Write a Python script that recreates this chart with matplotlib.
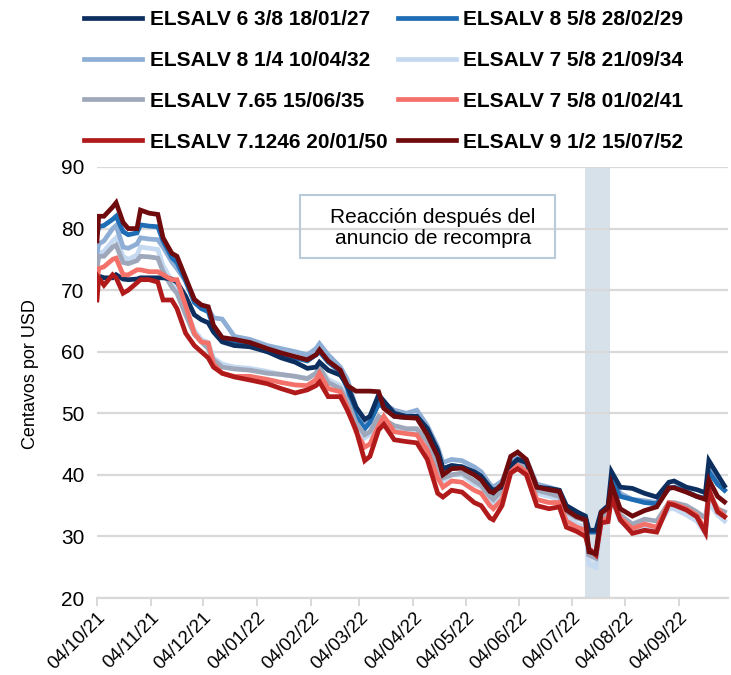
import matplotlib
matplotlib.use("Agg")
import matplotlib.pyplot as plt
import matplotlib.dates as mdates
import pandas as pd
from matplotlib.patches import Rectangle

plt.rcParams['font.family'] = ['Liberation Sans', 'DejaVu Sans']

dates = pd.to_datetime([
    "2021-10-04", "2021-10-05", "2021-10-08", "2021-10-13", "2021-10-15", "2021-10-19",
    "2021-10-22", "2021-10-27", "2021-10-29", "2021-11-03", "2021-11-08", "2021-11-11",
    "2021-11-16", "2021-11-19", "2021-11-24", "2021-11-29", "2021-12-03", "2021-12-07",
    "2021-12-10", "2021-12-15", "2021-12-22", "2021-12-31", "2022-01-10", "2022-01-18",
    "2022-01-26", "2022-02-02", "2022-02-07", "2022-02-09", "2022-02-14", "2022-02-21",
    "2022-02-25", "2022-03-02", "2022-03-07", "2022-03-10", "2022-03-15", "2022-03-18",
    "2022-03-24", "2022-03-31", "2022-04-06", "2022-04-12", "2022-04-18", "2022-04-21",
    "2022-04-26", "2022-05-02", "2022-05-09", "2022-05-13", "2022-05-18", "2022-05-20",
    "2022-05-25", "2022-05-30", "2022-06-03", "2022-06-08", "2022-06-14", "2022-06-21",
    "2022-06-27", "2022-07-01", "2022-07-07", "2022-07-12", "2022-07-14", "2022-07-18",
    "2022-07-21", "2022-07-25", "2022-07-27", "2022-08-01", "2022-08-08", "2022-08-15",
    "2022-08-22", "2022-08-29", "2022-09-01", "2022-09-08", "2022-09-14", "2022-09-19",
    "2022-09-21", "2022-09-26", "2022-09-30"])

n27 = [72, 72.3, 72, 72, 72.5, 71.8, 71.7, 71.8, 72, 72, 72, 72, 71.8, 71.3, 69, 66, 65.2, 64.7,
       63.2, 61.6, 61, 60.8, 60, 59, 58.3, 57.3, 57.5, 58.3, 57, 56.2, 54.5,
       51, 49, 49.5, 53, 52, 50, 49.5, 49.5, 47.5, 44, 41, 41.5, 41.3, 40.5, 39.8, 38, 37.5,
       38, 41.5, 42.5, 42, 38, 37.8, 37.5, 35, 34, 33.3, 31, 31, 34, 35, 40.5, 38, 37.8, 37,
       36.4, 38.8, 39, 38, 37.6, 37.1, 42.3, 40, 38.2]
b29 = [79, 80.3, 80.5, 81.5, 82, 79.5, 79, 79.3, 80.6, 80.4, 80.3, 78, 75.3, 74.5, 71.5, 68, 67, 66.5,
       64, 62, 61.5, 61, 60, 59.5, 59, 58.5, 59.5, 60, 58.3, 56.8, 54,
       49.5, 47.5, 48.5, 51.5, 51, 49.5, 49.3, 49.5, 47.5, 43.5, 41, 41.5, 41.3, 40.3, 39.5, 37.5, 37,
       38, 41.5, 42.5, 42, 38, 37.5, 37, 34.5, 33.5, 33, 30.7, 30.7, 33.5, 34.5, 39, 36.5, 36, 35.5,
       35.3, 37.8, 38, 37.3, 36.5, 36.2, 40.5, 38.5, 37.5]
lb32 = [76, 77.5, 78, 80, 80.5, 77, 76.8, 77.5, 78.5, 78.3, 78.2, 77, 74.6, 73.5, 71.5, 68.5, 67.5, 67,
        65.5, 65.3, 62.5, 62, 61, 60.5, 60, 59.5, 60.5, 61.3, 59.5, 57.5, 55.5,
        51, 48.5, 49, 52, 51.5, 50.5, 50, 50.5, 48, 44.5, 42, 42.5, 42.3, 41.3, 40.5, 38.5, 38,
        39, 42, 43, 42.5, 38.5, 38, 37.5, 35, 34, 33, 27, 26.5, 33.5, 34.5, 39.5, 37, 36, 35.8,
        35.5, 37.8, 38, 37.3, 36.5, 36.2, 41, 38.5, 37.5]
vl34 = [74.5, 76, 76.3, 78, 78.5, 75.5, 75, 75.7, 77, 76.8, 76.6, 74, 71.5, 70, 67, 63.5, 62, 61.5,
        59, 58, 57.5, 57.3, 56.8, 56.3, 56, 55.7, 56.5, 57.3, 55.5, 54.5, 52,
        48.5, 46, 46.5, 49, 48.5, 47.5, 47.3, 47, 45, 41, 39, 40, 40, 38.5, 38, 36, 35.5,
        37, 40.5, 41.5, 41, 37, 36.5, 36, 33.5, 32, 31.5, 25.5, 25, 32.5, 33.5, 36, 32.5, 31, 31.5,
        31.3, 34.5, 34.5, 33.5, 32.5, 30.5, 35.5, 33.5, 32.5]
g35 = [73.5, 75.5, 75.5, 77, 77.3, 74.5, 74.3, 74.8, 75.5, 75.4, 75.2, 73, 70.5, 69.5, 66, 62.8, 61.6, 60.5,
       58.7, 57.5, 57.2, 57, 56.5, 56.3, 56, 55.6, 56.5, 57.5, 55, 54, 52,
       48.5, 46.5, 47, 49.5, 49, 48, 47.5, 47.5, 45.5, 41.5, 39.5, 40, 40.3, 39, 38.3, 36.5, 36,
       37.5, 41, 42, 41.5, 37.5, 37, 36.5, 34, 33, 32.5, 27, 26.5, 33, 34, 37, 33.5, 32, 32.8,
       32.5, 35.5, 35.5, 35, 34, 33, 37, 34.5, 34]
lr41 = [71, 73.5, 73.8, 75, 75.2, 72.5, 72.5, 73.3, 73.3, 73, 73, 72.5, 71.7, 71.7, 67.5, 63, 61.6, 61.4,
        58, 56.5, 56, 56, 55.5, 55, 54.6, 54.5, 55.5, 56.5, 54, 53.5, 51,
        47, 44.5, 45, 48, 49.5, 47, 46.7, 46.5, 44, 39.5, 38, 39, 38.8, 37.5, 37, 35, 34.5,
        36, 40.5, 41.5, 40.5, 36, 35.5, 35.5, 32.5, 31.5, 31, 28, 27, 32.5, 33, 36.5, 33, 31.3, 32,
        31.5, 35.5, 35.3, 34.5, 33.5, 31, 37, 34.5, 33.3]
r50 = [68.4, 72, 70.8, 72.5, 72, 69.5, 70, 71.2, 71.7, 71.7, 71.3, 68.4, 68.4, 67, 63, 61, 60, 59,
       57.5, 56.5, 55.9, 55.4, 54.8, 54, 53.3, 53.8, 54.5, 55.1, 52.7, 52.7, 50.5,
       47.3, 42.3, 43, 47.3, 48.2, 45.7, 45.4, 45.2, 42.5, 37, 36.4, 37.5, 37.2, 35.5, 35, 33, 32.7,
       35, 40.3, 41, 40, 35, 34.5, 34.8, 31.5, 30.8, 30, 28, 27, 32.2, 32.4, 36.4, 32.7, 30.5, 31,
       30.7, 35.3, 35.1, 34.3, 33.2, 30.6, 37.6, 34, 33.2]
dr52 = [78, 82, 82, 83.5, 84.2, 81, 80, 80, 83, 82.5, 82.3, 78.5, 76, 75.5, 72, 68.5, 67.6, 67.3,
        64.3, 62.3, 62, 61.5, 60.5, 59.8, 59.2, 58.7, 59.5, 60.3, 58.5, 57, 54.5,
        53.6, 53.6, 53.6, 53.5, 50.8, 49.5, 49.3, 49.2, 46.5, 43, 40, 41, 41.1, 40, 39.2, 37.3, 37.1,
        38.5, 43, 43.7, 42.5, 38, 37.6, 37.3, 34.3, 33.2, 32.7, 27.5, 27.2, 33.8, 34.6, 38.5, 34.5, 33.3, 34.2,
        34.8, 37.9, 37.9, 37.2, 36.5, 36, 39.2, 36.5, 35.6]

labels = ["ELSALV 6 3/8 18/01/27", "ELSALV 8 5/8 28/02/29", "ELSALV 8 1/4 10/04/32",
          "ELSALV 7 5/8 21/09/34", "ELSALV 7.65 15/06/35", "ELSALV 7 5/8 01/02/41",
          "ELSALV 7.1246 20/01/50", "ELSALV 9 1/2 15/07/52"]
series = [n27, b29, lb32, vl34, g35, lr41, r50, dr52]
colors = ["#0c2f5f", "#1e6db5", "#8eaed6", "#c5d9f0", "#9ea8ba", "#f4716a", "#b11a1b", "#700b0d"]
draw_order = [3, 2, 1, 4, 0, 5, 6, 7]

shade_start = pd.Timestamp("2022-07-12")
shade_end = pd.Timestamp("2022-07-26")
annot_text = "Reacción después del\nanuncio de recompra"
ylabel = "Centavos por USD"

fig = plt.figure(figsize=(7.31, 6.75), dpi=100)
ax = fig.add_axes([97/731, 1-598/675, (728-97)/731, (598-167)/675])

handles = [None]*8
for i in draw_order:
    h, = ax.plot(dates, series[i], color=colors[i], lw=3.4, label=labels[i],
                 solid_joinstyle='miter', zorder=3+draw_order.index(i))
    handles[i] = h

ax.axvspan(shade_start, shade_end, color="#d7e1ea", zorder=0.3, lw=0)

ax.set_ylim(20, 90)
ax.set_yticks(range(20, 91, 10))
ax.set_xlim(pd.Timestamp("2021-10-04"), pd.Timestamp("2022-10-02"))
ticks = pd.date_range("2021-10-04", "2022-09-04", freq=pd.DateOffset(months=1))
ax.set_xticks(ticks)
ax.xaxis.set_major_formatter(mdates.DateFormatter("%d/%m/%y"))
ax.set_axisbelow(True)
ax.yaxis.grid(True, color="#d9d9d9", lw=1.6, zorder=0.5)
for s in ["top", "right", "left"]:
    ax.spines[s].set_visible(False)
ax.spines["bottom"].set_color("#d9d9d9")
ax.spines["bottom"].set_linewidth(1.6)
ax.tick_params(axis="y", length=0, pad=9, labelsize=15)
ax.tick_params(axis="x", length=6, width=1.4, color="#d9d9d9", labelsize=13.5, pad=2)
for lab in ax.get_xticklabels():
    lab.set_rotation(45)
    lab.set_ha("right")
    lab.set_rotation_mode("anchor")
ax.set_ylabel(ylabel, fontsize=13)
ax.yaxis.set_label_coords(-0.092, (598-374)/431)

# annotation box (transparent, gridline shows through)
ax.add_patch(Rectangle(((300-97)/631, (598-258)/431), 255/631, 63/431, transform=ax.transAxes,
                       fill=False, edgecolor="#b9cbd9", lw=1.5, zorder=2))
ax.text((433-97)/631, (598-228)/431, annot_text, transform=ax.transAxes, ha="center", va="center",
        fontsize=15, linespacing=1.12, zorder=2.5)

order = [0, 2, 4, 6, 1, 3, 5, 7]
fig.legend([handles[i] for i in order], [labels[i] for i in order], ncol=2,
           loc="upper left", bbox_to_anchor=(84/731, 1-10/675), frameon=False,
           prop={"weight": "bold", "size": 15}, handlelength=2.8, handletextpad=0.35,
           labelspacing=1.05, columnspacing=0.5, borderpad=0, borderaxespad=0)

fig.savefig("out.png", dpi=100)
